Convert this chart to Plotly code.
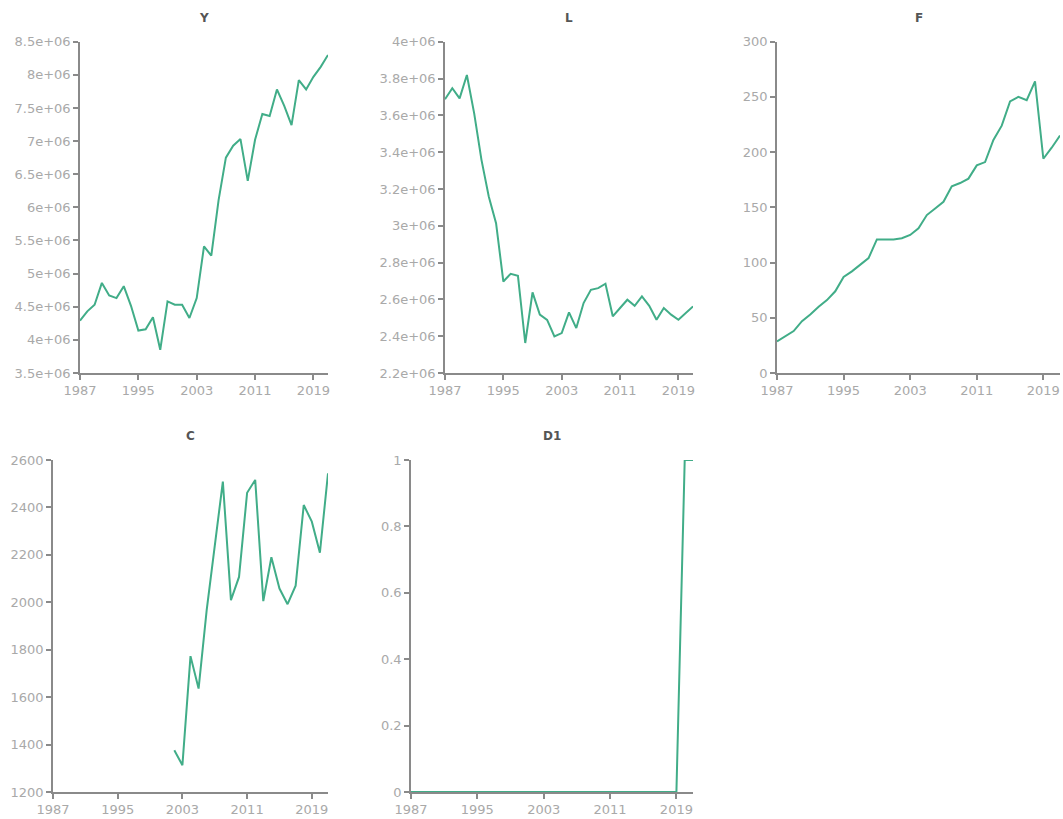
import plotly.graph_objects as go

years = list(range(1987, 2022))

Y = [4.29e6, 4.43e6, 4.53e6, 4.86e6, 4.67e6, 4.63e6, 4.81e6, 4.51e6, 4.14e6, 4.16e6,
     4.34e6, 3.85e6, 4.58e6, 4.53e6, 4.53e6, 4.33e6, 4.63e6, 5.41e6, 5.27e6, 6.11e6,
     6.75e6, 6.93e6, 7.03e6, 6.40e6, 7.02e6, 7.41e6, 7.38e6, 7.78e6, 7.53e6, 7.24e6,
     7.92e6, 7.78e6, 7.97e6, 8.12e6, 8.30e6]

L = [3.687e6, 3.747e6, 3.692e6, 3.819e6, 3.611e6, 3.358e6, 3.159e6, 3.014e6, 2.697e6, 2.739e6,
     2.728e6, 2.363e6, 2.638e6, 2.517e6, 2.489e6, 2.399e6, 2.417e6, 2.529e6, 2.444e6, 2.580e6,
     2.652e6, 2.661e6, 2.685e6, 2.508e6, 2.553e6, 2.598e6, 2.565e6, 2.616e6, 2.565e6, 2.489e6,
     2.553e6, 2.517e6, 2.489e6, 2.526e6, 2.562e6]

F = [28.6, 33, 38, 47, 53, 60, 66, 74, 87, 92,
     98, 104, 121, 121, 121, 122, 125, 131, 143, 149,
     155, 169, 172, 176, 188, 191, 211, 224, 246, 250,
     247, 264, 194, 204, 215]

C_years = list(range(2002, 2022))
C = [1376, 1313, 1773, 1636, 1967, 2238, 2509, 2009, 2107, 2462,
     2516, 2005, 2190, 2058, 1992, 2070, 2410, 2340, 2209, 2544]

D1 = [0] * 33 + [1, 1]

x_ticks = [1987, 1995, 2003, 2011, 2019]
y_ticks_Y = [3.5e6, 4e6, 4.5e6, 5e6, 5.5e6, 6e6, 6.5e6, 7e6, 7.5e6, 8e6, 8.5e6]
y_text_Y = ["3.5e+06", "4e+06", "4.5e+06", "5e+06", "5.5e+06", "6e+06", "6.5e+06",
            "7e+06", "7.5e+06", "8e+06", "8.5e+06"]
y_ticks_L = [2.2e6, 2.4e6, 2.6e6, 2.8e6, 3.0e6, 3.2e6, 3.4e6, 3.6e6, 3.8e6, 4.0e6]
y_text_L = ["2.2e+06", "2.4e+06", "2.6e+06", "2.8e+06", "3e+06", "3.2e+06", "3.4e+06",
            "3.6e+06", "3.8e+06", "4e+06"]
y_ticks_F = [0, 50, 100, 150, 200, 250, 300]
y_ticks_C = [1200, 1400, 1600, 1800, 2000, 2200, 2400, 2600]
y_ticks_D = [0, 0.2, 0.4, 0.6, 0.8, 1]

W, H = 1063, 819
LINE = "#41ad88"
AX = "#8a8a8a"
TICKC = "#a9a9a9"

panels = [
    ("Y", years, Y, (80, 328), (41.7, 373), [3.5e6, 8.5e6], y_ticks_Y, y_text_Y),
    ("L", years, L, (445, 693), (41.7, 373), [2.2e6, 4.0e6], y_ticks_L, y_text_L),
    ("F", years, F, (777, 1060), (41.7, 373), [0, 300], y_ticks_F, [str(v) for v in y_ticks_F]),
    ("C", C_years, C, (53, 328), (460, 792), [1200, 2600], y_ticks_C, [str(v) for v in y_ticks_C]),
    ("D1", years, D1, (411, 693), (460, 792), [0, 1], y_ticks_D, ["0", "0.2", "0.4", "0.6", "0.8", "1"]),
]

def px(x):
    return x / W

def py(y):
    return 1 - y / H

fig = go.Figure()
layout = dict(
    width=W, height=H,
    margin=dict(l=0, r=0, t=0, b=0),
    paper_bgcolor="white", plot_bgcolor="white",
    showlegend=False,
    font=dict(family="DejaVu Sans", size=13, color=TICKC),
    annotations=[],
)

for i, (title, xs, ys, (xl, xr), (yt, yb), yr, yt_vals, yt_text) in enumerate(panels):
    n = "" if i == 0 else str(i + 1)
    fig.add_trace(go.Scatter(x=xs, y=ys, mode="lines",
                             line=dict(color=LINE, width=2),
                             xaxis="x" + n, yaxis="y" + n, cliponaxis=False))
    layout["xaxis" + n] = dict(
        domain=[px(xl), min(px(xr), 1)], anchor="y" + n, range=[1987, 2021], automargin=False,
        tickvals=x_ticks, ticktext=[str(v) for v in x_ticks], layer="below traces",
        showgrid=False, zeroline=False, showline=True, linecolor=AX, linewidth=1.5,
        ticks="outside", ticklen=5, tickcolor=AX, tickwidth=1.5,
        tickfont=dict(family="DejaVu Sans", size=13, color=TICKC),
    )
    layout["yaxis" + n] = dict(
        domain=[py(yb), py(yt)], anchor="x" + n, range=yr, automargin=False,
        tickvals=yt_vals, ticktext=yt_text, layer="below traces",
        showgrid=False, zeroline=False, showline=True, linecolor=AX, linewidth=1.5,
        ticks="outside", ticklen=5, tickcolor=AX, tickwidth=1.5,
        tickfont=dict(family="DejaVu Sans", size=13, color=TICKC),
    )
    layout["annotations"].append(dict(
        text="<b>" + title + "</b>", xref="paper", yref="paper",
        x=px((xl + xr) / 2), y=py(yt - 24), xanchor="center", yanchor="middle",
        showarrow=False, font=dict(family="DejaVu Sans", size=12, color="#555555"),
    ))

fig.update_layout(**layout)
fig.write_html(
    "out.html",
    config={"displayModeBar": False},
    post_script=("document.body.style.margin='0';"
                 "document.body.style.overflow='hidden';"
                 "document.documentElement.style.overflow='hidden';"),
)
